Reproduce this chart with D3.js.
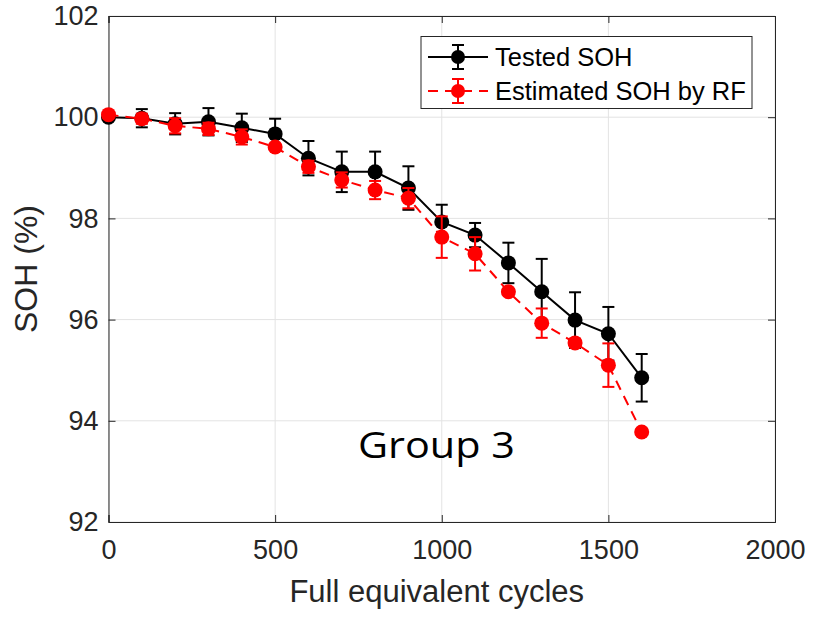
<!DOCTYPE html>
<html><head><meta charset="utf-8">
<script src="https://cdn.jsdelivr.net/npm/d3@7"></script>
<style>body{margin:0;background:#fff}svg{display:block}</style>
</head><body>
<script>
const cycles = [0,100,200,300,400,500,600,700,800,900,1000,1100,1200,1300,1400,1500,1600];
const testedSOH = [100.0,99.98,99.87,99.91,99.79,99.67,99.19,98.92,98.92,98.60,97.93,97.67,97.12,96.55,95.99,95.72,94.85];
const testedErr = [0.02,0.18,0.21,0.27,0.28,0.3,0.34,0.4,0.4,0.43,0.34,0.24,0.4,0.65,0.55,0.53,0.47];
const estSOH = [100.05,99.97,99.83,99.77,99.61,99.41,99.02,98.76,98.56,98.40,97.63,97.30,96.55,95.93,95.54,95.10,93.78];
const estErr = [0.02,0.1,0.15,0.12,0.15,0.05,0.12,0.15,0.18,0.2,0.41,0.33,0.05,0.29,0.08,0.43,0.06];
const xTicks = [0,500,1000,1500,2000];
const yTicks = [92,94,96,98,100,102];
const seriesNames = ["Tested SOH","Estimated SOH by RF"];

const W=815,H=622;
const m={l:108.5,r:40,t:16,b:100};
const svg=d3.select("body").append("svg").attr("width",W).attr("height",H);
const x=d3.scaleLinear().domain([0,2000]).range([m.l,W-m.r]);
const y=d3.scaleLinear().domain([92,102]).range([H-m.b,m.t]);
const axisCol="#262626", font="'Liberation Sans', Arial, sans-serif";

// grid
const g=svg.append("g");
g.selectAll(".gx").data(xTicks).enter().append("line")
 .attr("x1",d=>x(d)).attr("x2",d=>x(d)).attr("y1",y(92)).attr("y2",y(102))
 .attr("stroke","#e3e3e3").attr("stroke-width",1);
g.selectAll(".gy").data(yTicks).enter().append("line")
 .attr("y1",d=>y(d)).attr("y2",d=>y(d)).attr("x1",x(0)).attr("x2",x(2000))
 .attr("stroke","#e3e3e3").attr("stroke-width",1);

// axes
const xa=d3.axisBottom(x).tickValues(xTicks).tickSize(-7).tickPadding(18).tickFormat(d3.format("d"));
const ya=d3.axisLeft(y).tickValues(yTicks).tickSize(-7).tickPadding(10).tickFormat(d3.format("d"));
const xg=svg.append("g").attr("transform",`translate(0,${y(92)})`).call(xa);
const yg=svg.append("g").attr("transform",`translate(${x(0)},0)`).call(ya);
const xt=svg.append("g").attr("transform",`translate(0,${y(102)})`).call(d3.axisTop(x).tickValues(xTicks).tickSize(-7).tickFormat(""));
const yr=svg.append("g").attr("transform",`translate(${x(2000)},0)`).call(d3.axisRight(y).tickValues(yTicks).tickSize(-7).tickFormat(""));
[xg,yg,xt,yr].forEach(a=>{
  a.selectAll("path,line").attr("stroke",axisCol).attr("stroke-width",1);
  a.selectAll("text").attr("fill",axisCol).attr("font-family",font).attr("font-size",27);
});

svg.append("text").attr("x",(x(0)+x(2000))/2-5).attr("y",602).attr("text-anchor","middle")
 .attr("font-family",font).attr("font-size",31).attr("fill",axisCol).text("Full equivalent cycles");
svg.append("text").attr("transform",`translate(37,${(y(92)+y(102))/2}) rotate(-90)`).attr("text-anchor","middle")
 .attr("font-family",font).attr("font-size",32).attr("fill",axisCol).text("SOH (%)");

function drawSeries(vals,errs,col,dash){
  const gs=svg.append("g");
  const line=d3.line().x((d,i)=>x(cycles[i])).y(d=>y(d));
  gs.append("path").datum(vals).attr("d",line).attr("fill","none").attr("stroke",col)
    .attr("stroke-width",2).attr("stroke-dasharray",dash);
  const cw=6;
  vals.forEach((v,i)=>{
    const cx=x(cycles[i]), y1=y(v+errs[i]), y2=y(v-errs[i]);
    gs.append("line").attr("x1",cx).attr("x2",cx).attr("y1",y1).attr("y2",y2).attr("stroke",col).attr("stroke-width",2);
    gs.append("line").attr("x1",cx-cw).attr("x2",cx+cw).attr("y1",y1).attr("y2",y1).attr("stroke",col).attr("stroke-width",2);
    gs.append("line").attr("x1",cx-cw).attr("x2",cx+cw).attr("y1",y2).attr("y2",y2).attr("stroke",col).attr("stroke-width",2);
  });
  gs.selectAll("circle").data(vals).enter().append("circle")
    .attr("cx",(d,i)=>x(cycles[i])).attr("cy",d=>y(d)).attr("r",7.5).attr("fill",col);
}
drawSeries(testedSOH,testedErr,"#000",null);
drawSeries(estSOH,estErr,"#ff0000","10,7");

// legend
const lg=svg.append("g");
lg.append("rect").attr("x",421).attr("y",36.5).attr("width",331).attr("height",72)
 .attr("fill","#fff").attr("stroke","#262626").attr("stroke-width",1);
const rows=[{n:seriesNames[0],c:"#000",d:null,y:57},{n:seriesNames[1],c:"#ff0000",d:"10,7",y:91}];
rows.forEach(r=>{
  lg.append("line").attr("x1",428).attr("x2",488).attr("y1",r.y).attr("y2",r.y).attr("stroke",r.c).attr("stroke-width",2).attr("stroke-dasharray",r.d);
  lg.append("line").attr("x1",458).attr("x2",458).attr("y1",r.y-12).attr("y2",r.y+12).attr("stroke",r.c).attr("stroke-width",2);
  lg.append("line").attr("x1",452).attr("x2",464).attr("y1",r.y-12).attr("y2",r.y-12).attr("stroke",r.c).attr("stroke-width",2);
  lg.append("line").attr("x1",452).attr("x2",464).attr("y1",r.y+12).attr("y2",r.y+12).attr("stroke",r.c).attr("stroke-width",2);
  lg.append("circle").attr("cx",458).attr("cy",r.y).attr("r",7).attr("fill",r.c);
  lg.append("text").attr("x",495).attr("y",r.y+9).attr("font-family",font).attr("font-size",25.5).attr("fill","#000").text(r.n);
});

const gt=svg.append("text").attr("x",0).attr("y",0).attr("font-family","'Open Sans', Lato, sans-serif")
 .attr("font-size",36).attr("fill","#000").text("Group 3");
const gw=gt.node().getComputedTextLength();
gt.attr("transform",`translate(358,458) scale(${157/gw},1)`);
</script>
</body></html>
